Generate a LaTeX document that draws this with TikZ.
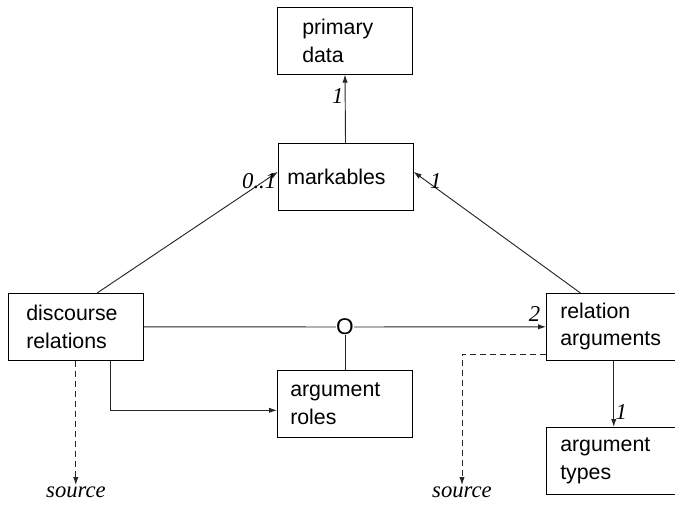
\documentclass[tikz,border=0pt]{standalone}
\usepackage{fontspec}
\setmainfont{Liberation Sans}
\newfontfamily\labelfont{Liberation Serif}
\usetikzlibrary{arrows.meta}
\begin{document}
\begin{tikzpicture}[x=0.75pt,y=-0.75pt,
  box/.style={draw, anchor=north west, minimum height=50.25pt, align=left,
    inner xsep=#1, text width=101.25pt-2*#1, font=\fontsize{16}{20.5}\selectfont},
  link/.style={draw=black!85, line width=0.7pt},
  mult/.style={font=\labelfont\itshape\fontsize{17}{20}\selectfont, inner sep=1pt},
  tip/.style={>={Latex[length=6pt,width=4pt]}}]
\useasboundingbox (0,0) rectangle (675,506);
\node[box=18.75pt] (prim) at (277,7) {primary\\data};
\node[box=6.75pt] (mark) at (278,143) {markables};
\node[box=13.5pt] (disc) at (8,293) {discourse\\relations};
\node[box=10.5pt] (rel) at (546,293) {relation\\arguments};
\node[box=9.75pt] (roles) at (277,370) {argument\\roles};
\node[box=10.5pt] (types) at (546,427) {argument\\types};
\node[font=\fontsize{17}{18}\selectfont, inner sep=0pt] (o) at (345,327) {O};
\node[mult, anchor=north] (src1) at (76,485) {source};
\node[mult, anchor=north] (src2) at (462,485) {source};
\path[draw,link,tip,->] (mark) -- node[mult, pos=0.68, left] {1} (prim);
\path[draw,link,tip,->] ([xshift=16pt]disc.north) -- ([yshift=3.75pt]mark.west) node[mult, anchor=north east] {0..1};
\path[draw,link,tip,->] ([xshift=-25pt]rel.north) -- ([yshift=3.75pt]mark.east) node[mult, anchor=north west, xshift=11pt] {1};
\path[draw,link] (disc) -- (o);
\path[draw,link,tip,->] (o) -- node[mult, at end, anchor=south east, inner sep=4pt] {2} (rel);
\path[draw,link] (o) -- (o |- roles.north);
\path[draw,link,tip,->] ([xshift=26pt]disc.south) |- ([yshift=-4.9pt]roles.west);
\path[draw,link,tip,->] (rel) -- node[mult, pos=0.78, right] {1} (types);
\path[draw,link,dash pattern=on 4.5pt off 3pt,tip,->] (disc.south) -- (disc.south |- src1.north);
\path[draw,link,dash pattern=on 4.5pt off 3pt,tip,->] ([yshift=-20.6pt]rel.west) -| (src2.north);
\end{tikzpicture}
\end{document}
